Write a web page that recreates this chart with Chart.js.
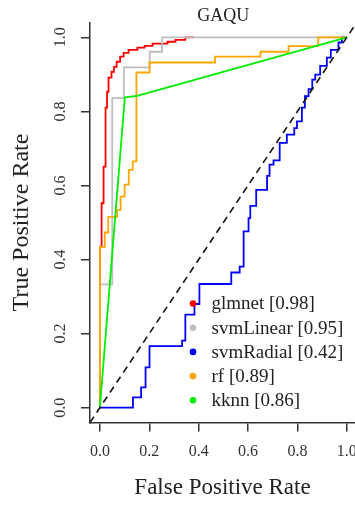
<!DOCTYPE html>
<html><head><meta charset="utf-8">
<script src="https://cdn.jsdelivr.net/npm/chart.js@4/dist/chart.umd.min.js"></script>
<style>html,body{margin:0;padding:0;background:#fff;}canvas{display:block;}</style>
</head><body>
<canvas id="c" width="355" height="506"></canvas>
<script>
const chartTitle = "GAQU";
const xAxisTitle = "False Positive Rate";
const yAxisTitle = "True Positive Rate";
const tickValues = [0, 0.2, 0.4, 0.6, 0.8, 1.0];
const tickLabels = ["0.0", "0.2", "0.4", "0.6", "0.8", "1.0"];
const seriesNames = ["glmnet", "svmLinear", "svmRadial", "rf", "kknn"];
const aucValues = ["0.98", "0.95", "0.42", "0.89", "0.86"];

const glmnetFPR = [0,0,0.007,0.007,0.015,0.015,0.023,0.023,0.029,0.029,0.035,0.035,0.047,0.047,0.057,0.057,0.068,0.068,0.082,0.082,0.096,0.096,0.116,0.116,0.152,0.152,0.181,0.181,0.213,0.213,0.274,0.274,0.306,0.306,0.346,0.346,0.38];
const glmnetTPR = [0,0.435,0.435,0.552,0.552,0.651,0.651,0.81,0.81,0.853,0.853,0.891,0.891,0.907,0.907,0.92,0.92,0.934,0.934,0.948,0.948,0.958,0.958,0.966,0.966,0.972,0.972,0.977,0.977,0.983,0.983,0.988,0.988,0.993,0.993,1.0,1.0];

const svmLinearFPR = [0,0,0.05,0.05,0.097,0.097,0.202,0.202,0.252,0.252,1];
const svmLinearTPR = [0,0.333,0.333,0.836,0.836,0.919,0.919,0.961,0.961,1,1];

const svmRadialFPR = [0,0.134,0.134,0.167,0.167,0.185,0.185,0.201,0.201,0.333,0.333,0.346,0.346,0.383,0.383,0.403,0.403,0.532,0.532,0.566,0.566,0.582,0.582,0.602,0.602,0.609,0.609,0.633,0.633,0.677,0.677,0.687,0.687,0.703,0.703,0.728,0.728,0.757,0.757,0.787,0.787,0.798,0.798,0.818,0.818,0.83,0.83,0.845,0.845,0.86,0.86,0.872,0.872,0.892,0.892,0.919,0.919,0.935,0.935,0.966,0.966,0.98,0.98,1];
const svmRadialTPR = [0,0,0.028,0.028,0.055,0.055,0.109,0.109,0.166,0.166,0.181,0.181,0.251,0.251,0.28,0.28,0.334,0.334,0.365,0.365,0.381,0.381,0.476,0.476,0.512,0.512,0.545,0.545,0.588,0.588,0.626,0.626,0.656,0.656,0.668,0.668,0.715,0.715,0.737,0.737,0.755,0.755,0.773,0.773,0.81,0.81,0.841,0.841,0.86,0.86,0.886,0.886,0.899,0.899,0.923,0.923,0.945,0.945,0.966,0.966,0.986,0.986,1,1];

const rfFPR = [0,0,0.02,0.02,0.034,0.034,0.07,0.07,0.084,0.084,0.1,0.1,0.117,0.117,0.133,0.133,0.148,0.148,0.201,0.201,0.466,0.466,0.65,0.65,0.764,0.764,0.884,0.884,1];
const rfTPR = [0,0.434,0.434,0.473,0.473,0.515,0.515,0.534,0.534,0.57,0.57,0.602,0.602,0.642,0.642,0.665,0.665,0.905,0.905,0.932,0.932,0.948,0.948,0.961,0.961,0.976,0.976,1,1];

const kknnFPR = [0,0.101,0.151,1];
const kknnTPR = [0,0.838,0.842,1];

const xMin = -0.04, xMax = 1.033, yMin = -0.04, yMax = 1.04;
const refLine = [xMin, 1.04];

const colors = ["#ff0000", "#bebebe", "#0000ff", "#ffa500", "#00ee00"];
const FONT = '"Liberation Serif", "Times New Roman", serif';

const pts = (xs, ys) => xs.map((x, i) => ({x, y: ys[i]}));
const series = [
  pts(glmnetFPR, glmnetTPR), pts(svmLinearFPR, svmLinearTPR), pts(svmRadialFPR, svmRadialTPR),
  pts(rfFPR, rfTPR), pts(kknnFPR, kknnTPR)
];

const datasets = series.map((d, i) => ({
  label: seriesNames[i], data: d, borderColor: colors[i], backgroundColor: colors[i],
  borderWidth: 1.8, pointRadius: 0, tension: 0, fill: false, order: 5 - i
}));
datasets.push({
  label: "ref", data: pts(refLine, refLine), borderColor: "#111", borderWidth: 1.6,
  borderDash: [7, 5], pointRadius: 0, fill: false, order: 0
});

const overlay = {
  id: 'overlay',
  beforeDraw(chart) {
    const c = chart.ctx; c.save(); c.fillStyle = '#fff';
    c.fillRect(0, 0, chart.width, chart.height); c.restore();
  },
  afterDatasetsDraw(chart) {
    const c = chart.ctx;
    const xs = chart.scales.x;
    c.save();
    c.fillStyle = '#222';
    c.font = '18px ' + FONT;
    c.textAlign = 'center'; c.textBaseline = 'middle';
    c.fillText(chartTitle, xs.getPixelForValue(0.5), 16);
    c.font = '19px ' + FONT;
    c.textAlign = 'left';
    seriesNames.forEach((n, i) => {
      const y = 303.5 + i * 24.2;
      c.fillStyle = colors[i];
      c.beginPath(); c.arc(193, y, 3.3, 0, Math.PI * 2); c.fill();
      c.fillStyle = '#222';
      c.fillText(n + ' [' + aucValues[i] + ']', 211.5, y + 1);
    });
    c.restore();
  }
};

const setTicks = s => { s.ticks = tickValues.map(v => ({value: v})); };
const axisCommon = {
  type: 'linear',
  afterBuildTicks: setTicks,
  grid: {drawOnChartArea: false, drawTicks: true, tickLength: 9, color: '#333', lineWidth: 1.5},
  border: {display: true, color: '#333', width: 1.5},
};

new Chart(document.getElementById('c'), {
  type: 'line',
  data: {datasets},
  plugins: [overlay],
  options: {
    responsive: false, animation: false, events: [],
    layout: {padding: {top: 22.5, left: 0, right: 0, bottom: 0}},
    plugins: {legend: {display: false}, tooltip: {enabled: false}, title: {display: false}},
    scales: {
      x: Object.assign({}, axisCommon, {
        position: 'bottom', min: xMin, max: xMax,
        ticks: {callback: (v, i) => tickLabels[i], font: {family: FONT, size: 16}, color: '#333',
                padding: 11, maxRotation: 0, minRotation: 0, autoSkip: false},
        title: {display: true, text: xAxisTitle, font: {family: FONT, size: 23}, color: '#222',
                padding: {top: 0, bottom: 4}},
        afterFit: s => { s.height = 83.5; s.paddingLeft = 0; s.paddingRight = 0; }
      }),
      y: Object.assign({}, axisCommon, {
        position: 'left', min: yMin, max: yMax,
        ticks: {callback: (v, i) => tickLabels[i], font: {family: FONT, size: 16}, color: '#333',
                padding: 10.5, minRotation: 90, maxRotation: 90, crossAlign: 'center', autoSkip: false},
        title: {display: true, text: yAxisTitle, font: {family: FONT, size: 24}, color: '#222',
                padding: {top: 7.3, bottom: 0}},
        afterFit: s => { s.width = 90; s.paddingTop = 0; s.paddingBottom = 0; }
      })
    }
  }
});
</script>
</body></html>
